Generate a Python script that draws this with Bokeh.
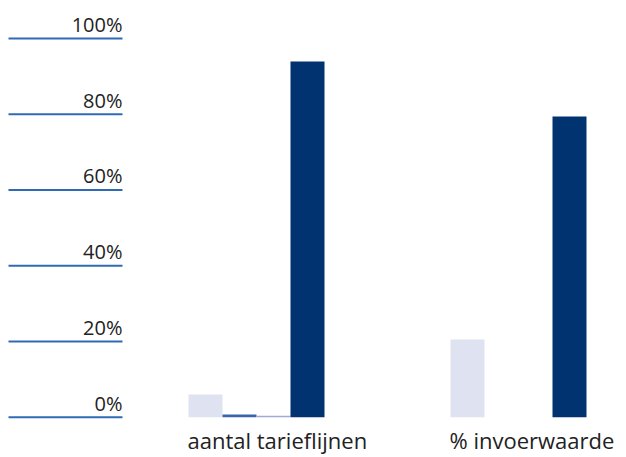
from bokeh.plotting import figure
from bokeh.models import Range1d
from bokeh.core.properties import value
from bokeh.embed import file_html
from bokeh.resources import INLINE

# ---- data ----
categories = ["aantal tarieflijnen", "% invoerwaarde"]
series_a = [6.0, 20.5]    # light lavender
series_b = [0.7, 0.0]     # mid blue
series_c = [0.4, 0.0]     # lavender
series_d = [93.9, 79.4]   # dark navy
tick_values = [0, 20, 40, 60, 80, 100]
tick_labels = ["0%", "20%", "40%", "60%", "80%", "100%"]

series = [series_a, series_b, series_c, series_d]
colors = ["#dfe2f1", "#3a64ae", "#a5a9d5", "#00336f"]

# ---- layout constants (data units: one category = 1) ----
bw = 34 / 262.0
offsets = [-1.5, -0.5, 0.5, 1.5]
axis_left = -0.9466
axis_right = -0.5115

p = figure(width=626, height=457, output_backend="svg", toolbar_location=None,
           x_range=Range1d(-0.9771, 1.4122), y_range=Range1d(-10.64, 110.03),
           x_axis_type=None, y_axis_type=None, min_border=0)
p.grid.visible = False
p.outline_line_color = None
p.background_fill_color = "white"
p.border_fill_color = "white"

idx = list(range(len(categories)))
for s, off, col in zip(series, offsets, colors):
    xs = [i + off * bw for i in idx]
    p.vbar(x=xs, top=s, bottom=0, width=bw, fill_color=col, line_color=None)

# y "axis": short blue rules with labels above them
p.segment(x0=[axis_left] * len(tick_values), x1=[axis_right] * len(tick_values),
          y0=tick_values, y1=tick_values, line_color="#2f6bb4", line_width=2)
p.text(x=[axis_right] * len(tick_values), y=tick_values, text=tick_labels,
       text_align="right", text_baseline="alphabetic", y_offset=-14,
       text_font=value("Open Sans"), text_font_size="20px", text_color="#222222")

# category labels
p.text(x=[i - 2 * bw for i in idx], y=[0] * len(idx), text=categories,
       text_align="left", text_baseline="alphabetic", y_offset=23, x_offset=-1,
       text_font=value("Open Sans"), text_font_size="22px", text_color="#222222")

open("out.html", "w").write(file_html(p, INLINE))
